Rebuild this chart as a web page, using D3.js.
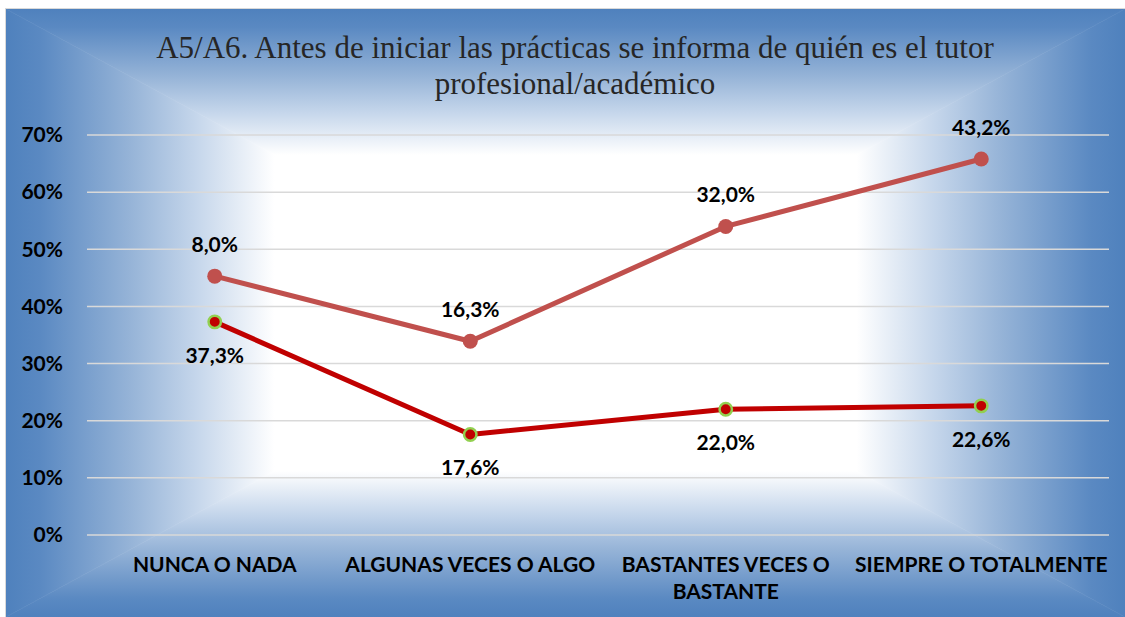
<!DOCTYPE html>
<html>
<head>
<meta charset="utf-8">
<script src="https://cdn.jsdelivr.net/npm/d3@7"></script>
<style>
  body { margin: 0; background: #fff; }
  svg { display: block; }
</style>
</head>
<body>
<div id="chart"></div>
<script>
// data
const categories = ["NUNCA O NADA", "ALGUNAS VECES O ALGO", "BASTANTES VECES O BASTANTE", "SIEMPRE O TOTALMENTE"];
const serieBase = [37.3, 17.6, 22.0, 22.6];   // lower line (dark red, green outlined markers)
const serieTop = [8.0, 16.3, 32.0, 43.2];     // stacked on the lower one
const yTicks = [0, 10, 20, 30, 40, 50, 60, 70];
const title = ["A5/A6. Antes de iniciar las prácticas se informa de quién es el tutor", "profesional/académico"];

let W = 1125, H = 617;
let marginTop = 135, marginBottom = 82, marginLeft = 87, marginRight = 16;
let labelFont = "Lato, 'Open Sans', sans-serif";

let esLocale = d3.formatLocale({decimal: ",", thousands: ".", grouping: [3], currency: ["", "€"]});
let fmtLabel = v => esLocale.format(".1f")(v) + "%";

let svg = d3.select("#chart").append("svg")
    .attr("width", W)
    .attr("height", H);

// background: rectangular "from center" gradient, done as 4 triangles
let bx0 = 6, by0 = 9, bx1 = W, by1 = H;
let cx = (bx0 + bx1) / 2, cy = (by0 + by1) / 2;
let defs = svg.append("defs");
let sides = [
    {id: "gT", pts: [[bx0, by0], [bx1, by0], [cx, cy]], from: [cx, by0]},
    {id: "gB", pts: [[bx0, by1], [bx1, by1], [cx, cy]], from: [cx, by1]},
    {id: "gL", pts: [[bx0, by0], [bx0, by1], [cx, cy]], from: [bx0, cy]},
    {id: "gR", pts: [[bx1, by0], [bx1, by1], [cx, cy]], from: [bx1, cy]}
];
sides.forEach(s => {
    let g = defs.append("linearGradient")
        .attr("id", s.id)
        .attr("gradientUnits", "userSpaceOnUse")
        .attr("x1", s.from[0]).attr("y1", s.from[1])
        .attr("x2", cx).attr("y2", cy);
    g.append("stop").attr("offset", 0).attr("stop-color", "#4f81bd");
    g.append("stop").attr("offset", 0.06).attr("stop-color", "#5a89c2");
    g.append("stop").attr("offset", 0.22).attr("stop-color", "#95b3d7");
    g.append("stop").attr("offset", 0.34).attr("stop-color", "#c5d6eb");
    g.append("stop").attr("offset", 0.48).attr("stop-color", "#ffffff");
    g.append("stop").attr("offset", 1).attr("stop-color", "#ffffff");
    svg.append("polygon")
        .attr("points", s.pts.map(p => p.join(",")).join(" "))
        .attr("fill", "url(#" + s.id + ")")
        .attr("stroke", "url(#" + s.id + ")")
        .attr("stroke-width", 0.6);
});
svg.append("rect")
    .attr("x", bx0 - 0.5).attr("y", by0 - 0.5)
    .attr("width", bx1 - bx0 + 2).attr("height", by1 - by0 + 2)
    .attr("fill", "none")
    .attr("stroke", "#d9d9d9");

// title
let titleText = svg.append("text")
    .attr("text-anchor", "middle")
    .style("font-family", "'Liberation Serif', 'DejaVu Serif', serif")
    .style("font-size", "31px")
    .attr("fill", "#262626");
titleText.selectAll("tspan")
    .data(title)
    .enter().append("tspan")
    .attr("x", 575)
    .attr("y", (d, i) => 58 + i * 36)
    .text(d => d);

let width = W - marginLeft - marginRight;
let height = H - marginTop - marginBottom;

let x = d3.scaleBand().domain(categories).range([0, width]);
let y = d3.scaleLinear().domain([0, 70]).range([height, 0]);

let g = svg.append("g")
    .attr("transform", "translate(" + marginLeft + "," + marginTop + ")");

// gridlines
g.append("g")
    .selectAll("line")
    .data(yTicks)
    .enter().append("line")
    .attr("x1", 0).attr("x2", width)
    .attr("y1", d => y(d)).attr("y2", d => y(d))
    .attr("stroke", "#d9d9d9")
    .attr("stroke-width", 1.5);

// y axis
let yAxis = g.append("g")
    .call(d3.axisLeft(y).tickValues(yTicks).tickFormat(d => d + "%").tickSize(0).tickPadding(24));
yAxis.select(".domain").remove();
yAxis.selectAll("text")
    .style("font-family", labelFont)
    .style("font-weight", "bold")
    .style("font-size", "21px")
    .attr("fill", "#000");

// x axis
let xAxis = g.append("g")
    .attr("transform", "translate(0," + height + ")")
    .call(d3.axisBottom(x).tickSize(0).tickPadding(22));
xAxis.select(".domain").remove();
xAxis.selectAll("text")
    .style("font-family", labelFont)
    .style("font-weight", "bold")
    .style("font-size", "21px")
    .attr("fill", "#000")
    .each(function(d) {
        // wrap long labels on the band width
        let t = d3.select(this);
        let words = d.split(" ");
        t.text(null);
        let line = [];
        let tspan = t.append("tspan").attr("x", 0).attr("dy", "0.71em");
        words.forEach(w => {
            line.push(w);
            tspan.text(line.join(" "));
            if (tspan.node().getComputedTextLength() > x.bandwidth() - 2 && line.length > 1) {
                line.pop();
                tspan.text(line.join(" "));
                line = [w];
                tspan = t.append("tspan").attr("x", 0).attr("dy", "1.3em").text(w);
            }
        });
    });

// stacked series
let rows = categories.map((c, i) => ({cat: c, base: serieBase[i], top: serieTop[i]}));
let stacked = d3.stack().keys(["base", "top"])(rows);

let line = d3.line()
    .x((d, i) => x(categories[i]) + x.bandwidth() / 2)
    .y(d => y(d[1]));

let styles = [
    {stroke: "#c00000", r: 6.2, ms: "#92d050", msw: 2.5, dy: 41},
    {stroke: "#c0504d", r: 7.5, ms: "none", msw: 0, dy: -24}
];

// upper line first, lower on top
[1, 0].forEach(k => {
    let s = stacked[k];
    let st = styles[k];
    g.append("path")
        .datum(s)
        .attr("fill", "none")
        .attr("stroke", st.stroke)
        .attr("stroke-width", 5)
        .attr("stroke-linejoin", "round")
        .attr("d", line);
    g.selectAll(".pt" + k)
        .data(s)
        .enter().append("circle")
        .attr("cx", (d, i) => x(categories[i]) + x.bandwidth() / 2)
        .attr("cy", d => y(d[1]))
        .attr("r", st.r)
        .attr("fill", st.stroke)
        .attr("stroke", st.ms)
        .attr("stroke-width", st.msw);
    g.selectAll(".lbl" + k)
        .data(s)
        .enter().append("text")
        .attr("x", (d, i) => x(categories[i]) + x.bandwidth() / 2)
        .attr("y", d => y(d[1]) + st.dy)
        .attr("text-anchor", "middle")
        .style("font-family", labelFont)
        .style("font-weight", "bold")
        .style("font-size", "21px")
        .attr("fill", "#000")
        .text(d => fmtLabel(d.data[k === 0 ? "base" : "top"]));
});
</script>
</body>
</html>
